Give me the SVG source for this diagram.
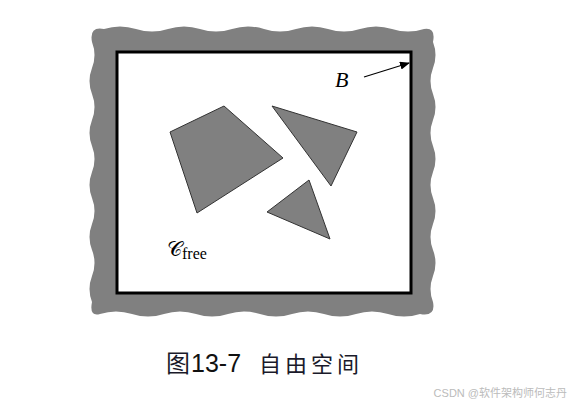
<svg xmlns="http://www.w3.org/2000/svg" width="571" height="406" viewBox="0 0 571 406">
<style>
.obs{fill:#808080;stroke:#333;stroke-width:1}
.lbl{font-family:"Liberation Serif","DejaVu Serif",serif;fill:#000}
</style>
<defs>
<marker id="ah" markerWidth="10" markerHeight="8" refX="9" refY="4" orient="auto" markerUnits="userSpaceOnUse">
<path d="M0,0 L10,4 L0,8 Z" fill="#000"/>
</marker>
</defs>
<rect width="571" height="406" fill="#fff"/>
<g id="border">
<path fill="#808080" d="M104,29 q16,-5 32,0 t32,0 t32,0 t32,0 t32,0 t32,0 t32,0 t32,0 t32,0 t32,0 Q436,27 433,42 q5,13 0,26 t0,26 t0,26 t0,26 t0,26 t0,26 t0,26 t0,26 t0,26 t0,26 Q436,317 420,314 q-16,5 -32,0 t-32,0 t-32,0 t-32,0 t-32,0 t-32,0 t-32,0 t-32,0 t-32,0 t-32,0 Q89,317 92,302 q-5,-13 0,-26 t0,-26 t0,-26 t0,-26 t0,-26 t0,-26 t0,-26 t0,-26 t0,-26 t0,-26 Q89,26 104,29 Z"/>
<rect x="117" y="52" width="294" height="241" fill="#fff" stroke="#000" stroke-width="3"/>
</g>
<g id="obstacle1"><polygon class="obs" points="170,132 224,106 283,158 197,213"/></g>
<g id="obstacle2"><polygon class="obs" points="272,106 357,132 331,186"/></g>
<g id="obstacle3"><polygon class="obs" points="267,212 309,180 330,239"/></g>
<g id="connectors">
<line x1="364" y1="77" x2="409" y2="63" stroke="#000" stroke-width="1.2" marker-end="url(#ah)"/>
</g>
<g id="labelB"><text class="lbl" x="335" y="87" font-size="22" font-style="italic">B</text></g>
<g id="labelCfree"><text class="lbl" x="167" y="256" font-size="21">𝒞<tspan font-size="16" dy="3">free</tspan></text></g>
<g id="caption">
<text x="166" y="372" font-size="24" fill="#1a1a2a" font-family="'Noto Sans CJK SC','DejaVu Sans',sans-serif">图</text>
<text x="191" y="372" font-size="25" fill="#111" font-family="'Liberation Sans',sans-serif">13-7</text>
<text x="259" y="372" font-size="22" fill="#1a1a2a" letter-spacing="4" font-family="'Noto Sans CJK SC',sans-serif">自由空间</text>
</g>
<text x="567" y="397" font-size="11" fill="#bbb" text-anchor="end" font-family="'Liberation Sans','Noto Sans CJK SC',sans-serif">CSDN @软件架构师何志丹</text>
</svg>
